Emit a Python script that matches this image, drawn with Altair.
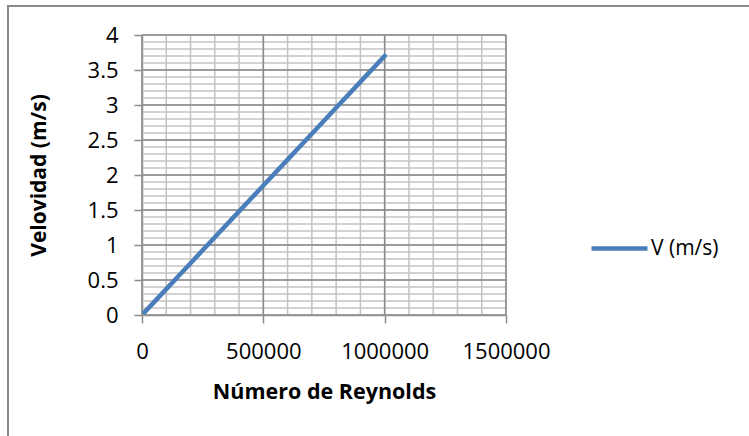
import altair as alt
import pandas as pd

# Reynolds number vs. flow velocity
reynolds = [10000, 100000, 200000, 300000, 400000, 500000, 600000, 700000, 800000, 900000, 1000000]
velocity = [0.037, 0.37, 0.74, 1.11, 1.48, 1.85, 2.22, 2.59, 2.96, 3.33, 3.70]
series_name = "V (m/s)"

# axis ticks and gridline positions
x_major = [0, 500000, 1000000, 1500000]
x_minor = [v for v in range(0, 1500001, 100000)]
y_major = [0, 0.5, 1, 1.5, 2, 2.5, 3, 3.5, 4]
y_minor = [round(i * 0.1, 1) for i in range(0, 41)]

FONT = "Open Sans"
GRID_MINOR = "#c3c3c3"
GRID_MAJOR = "#8a8a8a"
LINE = "#4a7ebb"

df = pd.DataFrame({"Re": reynolds, "V": velocity, "serie": series_name})
xs = alt.Scale(domain=[0, 1500000], nice=False)
ys = alt.Scale(domain=[0, 4], nice=False)

x_axis = alt.Axis(
    values=x_major, title="Número de Reynolds", format="d",
    grid=False, domainColor=GRID_MAJOR, domainWidth=1.5,
    tickColor=GRID_MAJOR, tickWidth=1.5, tickSize=8,
    labelOverlap=False, labelFlush=False, labelBound=False,
    labelPadding=18, labelFontSize=22, labelFont=FONT, labelColor="#000",
    titleFont=FONT, titleFontSize=21.5, titleFontWeight="bold", titleColor="#000",
    titlePadding=19,
)
y_axis = alt.Axis(
    values=y_major, title="Velovidad (m/s)", format="~g",
    grid=False, domainColor=GRID_MAJOR, domainWidth=1.5,
    tickColor=GRID_MAJOR, tickWidth=1.5, tickSize=8,
    labelOverlap=False, labelFlush=False, labelBound=False,
    labelPadding=16, labelFontSize=22, labelFont=FONT, labelColor="#000",
    titleFont=FONT, titleFontSize=21, titleFontWeight="bold", titleColor="#000",
    titlePadding=38,
)

xminor = alt.Chart(pd.DataFrame({"x": x_minor})).mark_rule(
    color=GRID_MINOR, strokeWidth=1.5
).encode(x=alt.X("x:Q", scale=xs, axis=x_axis))
yminor = alt.Chart(pd.DataFrame({"y": y_minor})).mark_rule(
    color=GRID_MINOR, strokeWidth=1.5
).encode(y=alt.Y("y:Q", scale=ys, axis=y_axis))
xmajor = alt.Chart(pd.DataFrame({"x": x_major})).mark_rule(
    color=GRID_MAJOR, strokeWidth=1.5
).encode(x=alt.X("x:Q", scale=xs, axis=x_axis))
ymajor = alt.Chart(pd.DataFrame({"y": y_major})).mark_rule(
    color=GRID_MAJOR, strokeWidth=1.5
).encode(y=alt.Y("y:Q", scale=ys, axis=y_axis))

line = alt.Chart(df).mark_line(strokeWidth=4.5, strokeCap="round").encode(
    x=alt.X("Re:Q", scale=xs, axis=x_axis),
    y=alt.Y("V:Q", scale=ys, axis=y_axis),
    color=alt.Color(
        "serie:N",
        scale=alt.Scale(range=[LINE]),
        legend=alt.Legend(
            title=None, orient="none", legendX=447, legendY=183,
            symbolType="stroke", symbolSize=3136, symbolStrokeWidth=4.5,
            labelFont=FONT, labelFontSize=21, labelColor="#000", labelOffset=1,
        ),
    ),
)

# outer chart frame (top and left edges)
frame_top = alt.Chart(pd.DataFrame({"k": [0]})).mark_rule(
    color="#8a8a8a", strokeWidth=2
).encode(x=alt.value(-134), x2=alt.value(607), y=alt.value(-29))
frame_left = alt.Chart(pd.DataFrame({"k": [0]})).mark_rule(
    color="#8a8a8a", strokeWidth=2
).encode(x=alt.value(-134), y=alt.value(-30), y2=alt.value(401))

chart = alt.layer(
    xminor, yminor, xmajor, ymajor, line, frame_top, frame_left
).properties(
    width=364, height=280,
    autosize=alt.AutoSizeParams(type="none"),
    padding={"left": 142, "top": 35, "right": 243, "bottom": 121},
    background="white",
).configure_view(stroke=None)

chart.save("out.html", embed_options={"renderer": "svg", "actions": False})
